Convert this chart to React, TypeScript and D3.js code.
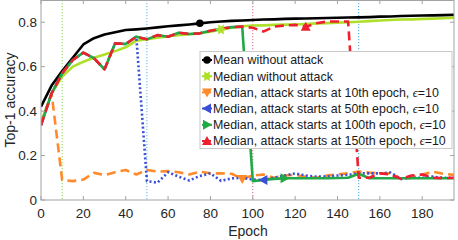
import React, { useRef, useEffect } from 'react';
import * as d3 from 'd3';

const epochs = [0, 5, 10, 15, 20, 25, 30, 35, 40, 45, 50, 55, 60, 65, 70, 75, 80, 85, 90, 95,
  100, 105, 110, 115, 120, 125, 130, 135, 140, 145, 150, 155, 160, 165, 170, 175, 180, 185, 190, 195];

const meanNoAttack = [0.42, 0.515, 0.58, 0.64, 0.70, 0.728, 0.745, 0.755, 0.765, 0.768,
  0.772, 0.777, 0.782, 0.786, 0.79, 0.795, 0.80, 0.803, 0.806, 0.808,
  0.81, 0.812, 0.813, 0.815, 0.816, 0.817, 0.818, 0.819, 0.82, 0.821,
  0.822, 0.823, 0.825, 0.826, 0.828, 0.829, 0.83, 0.831, 0.832, 0.833];

const medianNoAttack = [0.35, 0.48, 0.555, 0.60, 0.622, 0.64, 0.655, 0.67, 0.687, 0.717,
  0.723, 0.73, 0.737, 0.742, 0.746, 0.75, 0.757, 0.767, 0.775, 0.782,
  0.785, 0.786, 0.788, 0.789, 0.79, 0.792, 0.795, 0.796, 0.798, 0.8,
  0.802, 0.805, 0.808, 0.81, 0.812, 0.813, 0.815, 0.816, 0.818, 0.82];

// shared trajectory before an attack starts (epochs 0..95)
const beforeAttack = [0.337, 0.48, 0.57, 0.63, 0.663, 0.638, 0.588, 0.705, 0.702, 0.735,
  0.723, 0.742, 0.735, 0.753, 0.747, 0.75, 0.762, 0.77, 0.778, 0.78];

const attack10 = [...beforeAttack.slice(0, 2),
  0.09, 0.085, 0.092, 0.122, 0.112, 0.125, 0.135, 0.115, 0.135, 0.128,
  0.13, 0.125, 0.115, 0.127, 0.12, 0.12, 0.118, 0.095,
  0.11, 0.115, 0.1, 0.11, 0.113, 0.105, 0.1, 0.11, 0.115, 0.12,
  0.128, 0.123, 0.12, 0.12, 0.095, 0.1, 0.115, 0.127, 0.118, 0.113];

const attack50 = [...beforeAttack.slice(0, 10),
  0.085, 0.078, 0.125, 0.105, 0.088, 0.108, 0.12, 0.086, 0.097, 0.1,
  0.092, 0.09, 0.1, 0.11, 0.12, 0.11, 0.105, 0.105, 0.11, 0.113,
  0.12, 0.12, 0.12, 0.123, 0.095, 0.1, 0.1, 0.105, 0.1, 0.1];

const attack100 = [...beforeAttack,
  0.085, 0.09, 0.095, 0.098, 0.098, 0.098, 0.098, 0.098, 0.099, 0.1,
  0.118, 0.098, 0.098, 0.098, 0.098, 0.098, 0.098, 0.098, 0.098, 0.098];

const attack150 = [...beforeAttack,
  0.775, 0.758, 0.78, 0.785, 0.788, 0.78, 0.795, 0.803, 0.803, 0.803,
  0.1, 0.1, 0.12, 0.115, 0.095, 0.11, 0.115, 0.1, 0.098, 0.1];

const attackStarts = [10, 50, 100, 150];
const xTicks = [0, 20, 40, 60, 80, 100, 120, 140, 160, 180];
const yTicks = [0, 0.2, 0.4, 0.6, 0.8];

const series = [
  { name: 'Mean without attack', values: meanNoAttack, color: '#000000', dash: null, marker: 'circle', markAt: 75 },
  { name: 'Median without attack', values: medianNoAttack, color: '#aee02a', dash: null, marker: 'hexagram', markAt: 85 },
  { name: 'Median, attack starts at 10th epoch, ', values: attack10, color: '#ff8a2b', dash: '9,5', marker: 'down', markAt: 95 },
  { name: 'Median, attack starts at 50th epoch, ', values: attack50, color: '#3a4fd6', dash: '2,2.4', marker: 'left', markAt: 105 },
  { name: 'Median, attack starts at 100th epoch, ', values: attack100, color: '#21a847', dash: null, marker: 'right', markAt: 115 },
  { name: 'Median, attack starts at 150th epoch, ', values: attack150, color: '#ee2030', dash: '9,5', marker: 'up', markAt: 125 },
];
const vlineColors = ['#8cd04a', '#5ab8ea', '#d9667e', '#3ea6e6'];

function markerPath(kind: string, s: number) {
  if (kind === 'circle') return d3.symbol(d3.symbolCircle, s * s * 0.45)()!;
  if (kind === 'hexagram') {
    const pts: [number, number][] = [];
    for (let i = 0; i < 12; i++) {
      const r = i % 2 === 0 ? s * 0.58 : s * 0.3;
      const a = (Math.PI / 6) * i;
      pts.push([r * Math.cos(a), r * Math.sin(a)]);
    }
    return 'M' + pts.map(p => p.join(',')).join('L') + 'Z';
  }
  const h = s * 0.5;
  if (kind === 'up') return `M0,${-h}L${h},${h * 0.8}L${-h},${h * 0.8}Z`;
  if (kind === 'down') return `M0,${h}L${h},${-h * 0.8}L${-h},${-h * 0.8}Z`;
  if (kind === 'left') return `M${-h},0L${h * 0.8},${-h}L${h * 0.8},${h}Z`;
  return `M${h},0L${-h * 0.8},${-h}L${-h * 0.8},${h}Z`;
}

export default function App() {
  const svgRef = useRef<SVGSVGElement>(null);

  useEffect(() => {
    if (!svgRef.current) return;
    const svg = d3.select(svgRef.current);
    svg.selectAll('*').remove();

    const W = 458, H = 240;
    const left = 41, right = 454, top = 0, bottom = 200;
    const font = '"Liberation Sans", Arial, Helvetica, sans-serif';

    const x = d3.scaleLinear().domain([0, 195]).range([left, right]);
    const y = d3.scaleLinear().domain([0, 0.9]).range([bottom, top]);

    svg.attr('width', W).attr('height', H);
    svg.append('rect').attr('width', W).attr('height', H).attr('fill', '#fff');

    svg.append('defs').append('clipPath').attr('id', 'plot-clip')
      .append('rect').attr('x', left).attr('y', top).attr('width', right - left).attr('height', bottom - top);

    // attack start markers
    svg.selectAll('.vline').data(attackStarts).enter().append('line')
      .attr('x1', d => x(d)).attr('x2', d => x(d))
      .attr('y1', top).attr('y2', bottom)
      .attr('stroke', (_d, i) => vlineColors[i])
      .attr('stroke-width', 1)
      .attr('stroke-dasharray', '1.2,1.8');

    const g = svg.append('g').attr('clip-path', 'url(#plot-clip)');
    series.forEach(s => {
      const pts = epochs.map((e, i) => [e, s.values[i]] as [number, number]);
      const line = d3.line<[number, number]>().x(d => x(d[0])).y(d => y(d[1]));
      g.append('path')
        .attr('d', line(pts))
        .attr('fill', 'none')
        .attr('stroke', s.color)
        .attr('stroke-width', 2.6)
        .attr('stroke-linejoin', 'round')
        .attr('stroke-dasharray', s.dash);
    });
    series.forEach(s => {
      const i = epochs.indexOf(s.markAt);
      g.append('path')
        .attr('d', markerPath(s.marker, 10))
        .attr('transform', `translate(${x(epochs[i])},${y(s.values[i])})`)
        .attr('fill', s.color);
    });

    // axes box
    const axisColor = '#a3a3a3';
    svg.append('rect')
      .attr('x', left).attr('y', top + 0.5)
      .attr('width', right - left).attr('height', bottom - top - 0.5)
      .attr('fill', 'none').attr('stroke', axisColor).attr('stroke-width', 1);

    const tl = 4;
    xTicks.forEach(t => {
      svg.append('line').attr('x1', x(t)).attr('x2', x(t)).attr('y1', bottom).attr('y2', bottom - tl).attr('stroke', axisColor);
      svg.append('line').attr('x1', x(t)).attr('x2', x(t)).attr('y1', top).attr('y2', top + tl).attr('stroke', axisColor);
    });
    yTicks.forEach(t => {
      svg.append('line').attr('x1', left).attr('x2', left + tl).attr('y1', y(t)).attr('y2', y(t)).attr('stroke', axisColor);
      svg.append('line').attr('x1', right).attr('x2', right - tl).attr('y1', y(t)).attr('y2', y(t)).attr('stroke', axisColor);
    });

    svg.selectAll('.xt').data(xTicks).enter().append('text')
      .attr('x', d => x(d)).attr('y', 218)
      .attr('text-anchor', 'middle')
      .style('font-family', font).style('font-size', '13.5px').attr('fill', '#262626')
      .text(d => String(d));
    svg.selectAll('.yt').data(yTicks).enter().append('text')
      .attr('x', 37).attr('y', d => y(d)).attr('dy', '0.35em')
      .attr('text-anchor', 'end')
      .style('font-family', font).style('font-size', '13.5px').attr('fill', '#262626')
      .text(d => (d === 0 ? '0' : String(d)));

    svg.append('text').attr('x', (left + right) / 2 + 0.5).attr('y', 236)
      .attr('text-anchor', 'middle')
      .style('font-family', font).style('font-size', '14px').attr('fill', '#262626')
      .text('Epoch');
    svg.append('text')
      .attr('transform', `translate(15,${(top + bottom) / 2}) rotate(-90)`)
      .attr('text-anchor', 'middle')
      .style('font-family', font).style('font-size', '14px').attr('fill', '#262626')
      .text('Top-1 accuracy');

    // legend
    const lg = svg.append('g');
    const lx = 200, ly = 51.5, lw = 252, lh = 97;
    lg.append('rect').attr('x', lx).attr('y', ly).attr('width', lw).attr('height', lh)
      .attr('fill', '#fff').attr('stroke', '#c8c8c8').attr('stroke-width', 1);
    series.forEach((s, i) => {
      const cy = 60 + i * 16.2;
      lg.append('line').attr('x1', lx + 2).attr('x2', lx + 12).attr('y1', cy).attr('y2', cy)
        .attr('stroke', s.color).attr('stroke-width', 2).attr('stroke-dasharray', s.dash);
      lg.append('path').attr('d', markerPath(s.marker, 10))
        .attr('transform', `translate(${lx + 7},${cy})`).attr('fill', s.color);
      const t = lg.append('text').attr('x', lx + 13).attr('y', cy).attr('dy', '0.36em')
        .style('font-family', font).style('font-size', '12.4px').attr('fill', '#1a1a1a');
      t.append('tspan').text(s.name);
      if (i >= 2) {
        t.append('tspan').style('font-style', 'italic').style('font-family', '"Liberation Serif", serif').text('ϵ');
        t.append('tspan').text('=10');
      }
    });
  }, []);

  return (
    <div style={{ position: 'absolute', left: 0, top: 0 }}>
      <svg ref={svgRef} style={{ display: 'block' }} />
    </div>
  );
}
